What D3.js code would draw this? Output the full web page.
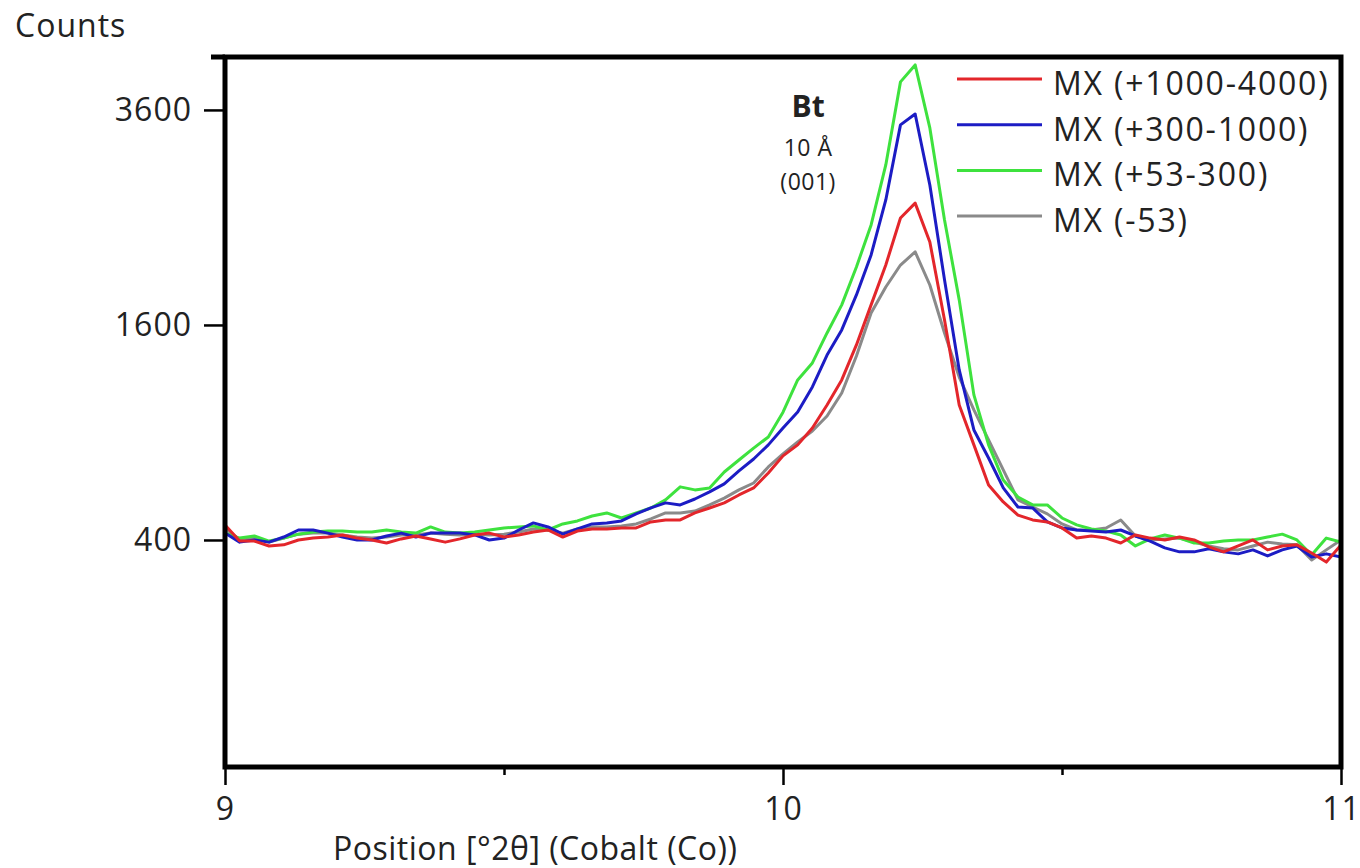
<!DOCTYPE html>
<html>
<head>
<meta charset="utf-8">
<script src="https://cdn.jsdelivr.net/npm/d3@7"></script>
<style>
  html, body { margin: 0; padding: 0; background: #fff; }
  svg { display: block; }
  text { font-family: 'Open Sans', 'Noto Sans', sans-serif; fill: #222; }
</style>
</head>
<body>
<svg id="chart" width="1360" height="868"></svg>
<script>
// ---------- DATA ----------
const xStart = 9, xEnd = 11, nPoints = 77;
const positions = d3.range(nPoints).map(i => xStart + i * (xEnd - xStart) / (nPoints - 1));

const seriesNames = ["MX (+1000-4000)", "MX (+300-1000)", "MX (+53-300)", "MX (-53)"];
const seriesColors = ["#e3262b", "#1c1cc4", "#3ee23e", "#8a8a8a"];

const redCounts = [458,396,396,378,382,400,407,411,419,407,400,389,404,415,404,392,404,419,426,411,
  419,430,438,411,434,442,442,446,446,470,478,478,507,528,550,585,617,688,774,832,
  925,1060,1217,1455,1753,2077,2495,2635,2277,1637,1060,832,631,554,498,478,470,446,407,415,
  407,389,419,407,400,411,400,375,357,378,400,364,378,382,353,322,382];
const blueCounts = [426,392,400,392,411,438,438,426,411,400,400,415,426,411,426,426,426,419,400,407,
  438,466,450,422,442,462,466,474,503,528,550,541,567,599,636,698,758,832,925,1018,
  1172,1384,1563,1831,2163,2665,3435,3555,2811,1953,1283,914,763,617,532,528,470,446,438,434,
  430,438,415,396,371,357,357,368,357,350,364,343,364,378,339,350,339];
const greenCounts = [426,407,415,396,407,422,430,434,434,430,430,438,430,426,450,430,426,430,438,446,
  450,454,438,462,474,494,507,486,507,528,563,622,608,617,693,753,815,875,1017,1217,
  1330,1541,1753,2060,2431,3012,3920,4120,3402,2477,1792,1122,832,654,576,541,541,486,458,442,
  434,419,378,404,419,407,389,389,396,400,400,411,422,400,346,407,392];
const grayCounts = [446,400,407,392,407,422,426,426,419,411,407,411,419,419,426,422,419,422,419,422,
  430,442,438,426,442,450,450,454,462,482,507,507,515,541,571,608,640,718,784,848,
  908,994,1134,1377,1690,1895,2077,2190,1911,1541,1236,1030,859,703,563,532,503,462,438,438,
  446,478,415,400,404,407,392,378,368,364,378,392,385,382,329,364,400];

const seriesValues = [redCounts, blueCounts, greenCounts, grayCounts];

const yTickValues = [400, 1600, 3600];
const yTopValue = 4215;
const xMajorTicks = [9, 10, 11];
const xMinorTicks = [9.5, 10.5];

const yLabel = "Counts";
const xLabel = "Position [°2θ] (Cobalt (Co))";
const annotation = { title: "Bt", line1: "10 Å", line2: "(001)", x: 10.045 };

// ---------- LAYOUT ----------
const svg = d3.select("#chart");
const pLeft = 225, pRight = 1341, pTop = 57, pBottom = 767, zeroY = 755;

const x = d3.scaleLinear().domain([xStart, xEnd]).range([pLeft, pRight]);
const y = d3.scaleSqrt().domain([0, yTopValue]).range([zeroY, pTop]);

svg.append("defs").append("clipPath").attr("id", "plotclip")
  .append("rect").attr("x", pLeft).attr("y", pTop).attr("width", pRight - pLeft).attr("height", pBottom - pTop);

const line = d3.line().x((d, i) => x(positions[i])).y(d => y(d));
const drawOrder = [3, 2, 1, 0];
const gLines = svg.append("g").attr("clip-path", "url(#plotclip)");
drawOrder.forEach(k => {
  gLines.append("path")
    .datum(seriesValues[k])
    .attr("d", line)
    .attr("fill", "none")
    .attr("stroke", seriesColors[k])
    .attr("stroke-width", 3)
    .attr("stroke-linejoin", "round");
});

svg.append("rect")
  .attr("x", pLeft).attr("y", pTop)
  .attr("width", pRight - pLeft).attr("height", pBottom - pTop)
  .attr("fill", "none").attr("stroke", "#000").attr("stroke-width", 5);

const yAxis = d3.axisLeft(y).tickValues(yTickValues).tickSize(21).tickPadding(12).tickFormat(d3.format("d"));
const gy = svg.append("g").attr("transform", `translate(${pLeft},0)`).call(yAxis);
gy.select(".domain").remove();
gy.selectAll(".tick line").attr("stroke", "#000").attr("stroke-width", 2.5);
gy.selectAll(".tick text").attr("font-size", 32).attr("letter-spacing", 1).attr("fill", "#222")
  .attr("font-family", "'Open Sans', sans-serif");
svg.append("line").attr("x1", pLeft - 14).attr("x2", pLeft).attr("y1", pTop).attr("y2", pTop)
  .attr("stroke", "#000").attr("stroke-width", 5);

const xAxis = d3.axisBottom(x).tickValues(xMajorTicks).tickSize(18).tickPadding(12).tickFormat(d3.format("d"));
const gx = svg.append("g").attr("transform", `translate(0,${pBottom})`).call(xAxis);
gx.select(".domain").remove();
gx.selectAll(".tick line").attr("stroke", "#000").attr("stroke-width", 2.5);
gx.selectAll(".tick text").attr("font-size", 32).attr("letter-spacing", 1).attr("fill", "#222")
  .attr("font-family", "'Open Sans', sans-serif");
const xAxisMinor = d3.axisBottom(x).tickValues(xMinorTicks).tickSize(8).tickFormat("");
const gxm = svg.append("g").attr("transform", `translate(0,${pBottom})`).call(xAxisMinor);
gxm.select(".domain").remove();
gxm.selectAll(".tick line").attr("stroke", "#000").attr("stroke-width", 2.5);

svg.append("text").attr("x", 15).attr("y", 37).attr("font-size", 32).attr("letter-spacing", 1).text(yLabel);
svg.append("text").attr("x", 333).attr("y", 860).attr("font-size", 32).attr("letter-spacing", 0.5).text(xLabel);

const ax = x(annotation.x);
svg.append("text").attr("x", ax).attr("y", 117).attr("text-anchor", "middle")
  .attr("font-size", 30).attr("font-weight", "bold").attr("fill", "#111").text(annotation.title);
svg.append("text").attr("x", ax).attr("y", 156).attr("text-anchor", "middle")
  .attr("font-size", 23).attr("letter-spacing", 0.5).text(annotation.line1);
svg.append("text").attr("x", ax).attr("y", 190).attr("text-anchor", "middle")
  .attr("font-size", 23).attr("letter-spacing", 0.5).text(annotation.line2);

const legend = svg.append("g");
seriesNames.forEach((name, k) => {
  const ly = 79 + k * 45.7;
  legend.append("line").attr("x1", 957).attr("x2", 1042).attr("y1", ly).attr("y2", ly)
    .attr("stroke", seriesColors[k]).attr("stroke-width", 3);
  legend.append("text").attr("x", 1053).attr("y", ly + 16).attr("font-size", 32)
    .attr("letter-spacing", 1.8).text(name);
});
</script>
</body>
</html>
